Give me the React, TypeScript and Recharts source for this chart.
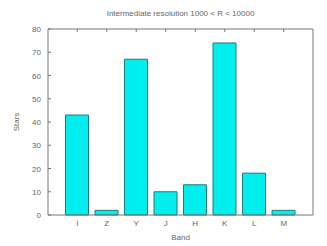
import React from "react";
import { BarChart, Bar, XAxis, YAxis, Label } from "recharts";

const bands = ["I", "Z", "Y", "J", "H", "K", "L", "M"];
const stars = [43, 2, 67, 10, 13, 74, 18, 2];
const yTicks = [0, 10, 20, 30, 40, 50, 60, 70, 80];

const data = bands.map((band, i) => ({ band, stars: stars[i] }));

const FONT = "'Liberation Sans', Arial, sans-serif";
const TEXT = "#666";
const BORDER = "#777";

const BottomTick = (props: any) => {
  const { x, y, payload } = props;
  return (
    <text x={x} y={y + 11} textAnchor="middle" fontSize={8} fontFamily={FONT} fill={TEXT}>
      {payload.value}
    </text>
  );
};

const TopTick = (props: any) => {
  const { x, y } = props;
  return <line x1={x} y1={y} x2={x} y2={y + 3} stroke={BORDER} />;
};

const LeftTick = (props: any) => {
  const { x, y, payload } = props;
  return (
    <g>
      <line x1={x} y1={y} x2={x + 3} y2={y} stroke={BORDER} />
      <text x={x - 7} y={y + 3} textAnchor="end" fontSize={8} fontFamily={FONT} fill={TEXT}>
        {payload.value}
      </text>
    </g>
  );
};

const RightTick = (props: any) => {
  const { x, y } = props;
  return <line x1={x} y1={y} x2={x - 3} y2={y} stroke={BORDER} />;
};

const StarsLabel = (props: any) => {
  const { viewBox } = props;
  const cx = 16;
  const cy = viewBox.y + viewBox.height / 2;
  return (
    <text
      x={cx}
      y={cy}
      transform={`rotate(-90 ${cx} ${cy})`}
      textAnchor="middle"
      dominantBaseline="central"
      fontSize={8}
      fontFamily={FONT}
      fill={TEXT}
    >
      Stars
    </text>
  );
};

export default function App() {
  return (
    <div style={{ position: "absolute", left: 0, top: 0 }}>
      <BarChart
        width={327}
        height={246}
        data={data}
        margin={{ top: 28, right: 13, bottom: 30, left: 47 }}
      >
        <XAxis
          dataKey="band"
          type="category"
          interval={0}
          height={1}
          padding={{ left: 14.5, right: 14.5 }}
          axisLine={{ stroke: BORDER }}
          tickLine={false}
          tickSize={0}
          tickMargin={0}
          tick={<BottomTick />}
        >
          <Label value="Band" position="bottom" offset={18} fontSize={8} fontFamily={FONT} fill={TEXT} />
        </XAxis>
        <XAxis
          xAxisId="top"
          dataKey="band"
          type="category"
          orientation="top"
          interval={0}
          height={1}
          padding={{ left: 14.5, right: 14.5 }}
          axisLine={{ stroke: BORDER }}
          tickLine={false}
          tickSize={0}
          tickMargin={0}
          tick={<TopTick />}
        >
          <Label
            value="Intermediate resolution 1000 < R < 10000"
            position="top"
            offset={12}
            fontSize={8}
            fontFamily={FONT}
            fill={TEXT}
          />
        </XAxis>
        <YAxis
          domain={[0, 80]}
          ticks={yTicks}
          width={1}
          axisLine={{ stroke: BORDER }}
          tickLine={false}
          tickSize={0}
          tickMargin={0}
          tick={<LeftTick />}
        >
          <Label content={<StarsLabel />} />
        </YAxis>
        <YAxis
          yAxisId="right"
          orientation="right"
          domain={[0, 80]}
          ticks={yTicks}
          width={1}
          axisLine={{ stroke: BORDER }}
          tickLine={false}
          tickSize={0}
          tickMargin={0}
          tick={<RightTick />}
        />
        <Bar
          dataKey="stars"
          barSize={23}
          fill="#00eeee"
          stroke="#1f7c7c"
          strokeWidth={1}
          isAnimationActive={false}
        />
      </BarChart>
    </div>
  );
}
